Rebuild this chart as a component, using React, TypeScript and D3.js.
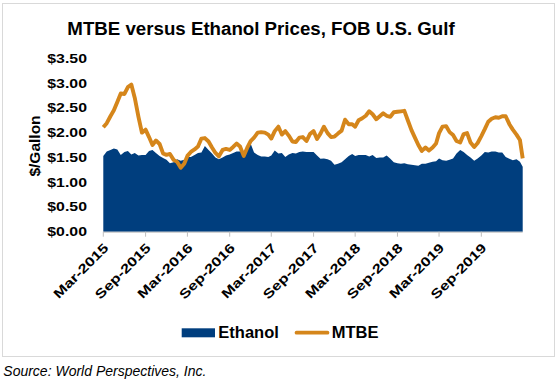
import React from "react";
import * as d3 from "d3";

// Semi-monthly observation dates, Mar 2015 – Feb 2020
const dates: Date[] = [];
for (let m = 0; m < 60; m++) {
  dates.push(new Date(2015, 2 + m, 1));
  dates.push(new Date(2015, 2 + m, 16));
}
dates.push(new Date(2020, 1, 28));

const mtbe: number[] = [
  2.11, 2.19, 2.33, 2.45, 2.62, 2.79, 2.78, 2.92, 2.97, 2.70,
  2.32, 2.00, 2.06, 1.91, 1.75, 1.84, 1.77, 1.58, 1.55, 1.57,
  1.45, 1.41, 1.29, 1.37, 1.53, 1.61, 1.66, 1.72, 1.88, 1.89,
  1.82, 1.70, 1.59, 1.52, 1.65, 1.67, 1.65, 1.71, 1.78, 1.72,
  1.53, 1.69, 1.83, 1.90, 2.00, 2.01, 2.00, 1.96, 1.88, 2.03,
  2.12, 1.96, 2.03, 1.94, 1.82, 1.81, 1.90, 1.91, 1.83, 1.97,
  2.03, 1.87, 1.98, 2.12, 1.99, 1.91, 1.92, 1.98, 2.04, 2.26,
  2.17, 2.17, 2.12, 2.25, 2.29, 2.34, 2.43, 2.37, 2.27, 2.33,
  2.39, 2.34, 2.32, 2.41, 2.42, 2.43, 2.44, 2.25, 2.05, 1.90,
  1.75, 1.63, 1.70, 1.64, 1.70, 1.78, 1.99, 2.12, 2.13, 2.01,
  1.95, 1.83, 1.80, 1.97, 1.99, 1.80, 1.71, 1.79, 1.93, 2.07,
  2.22, 2.28, 2.31, 2.30, 2.33, 2.33, 2.17, 2.06, 1.96, 1.85,
  1.48,
];

const ethanol: number[] = [
  1.53, 1.62, 1.65, 1.68, 1.66, 1.55, 1.61, 1.63, 1.56, 1.59,
  1.54, 1.55, 1.55, 1.63, 1.65, 1.59, 1.53, 1.49, 1.45, 1.38,
  1.40, 1.46, 1.43, 1.45, 1.51, 1.51, 1.55, 1.59, 1.60, 1.73,
  1.65, 1.58, 1.50, 1.46, 1.50, 1.54, 1.56, 1.59, 1.62, 1.62,
  1.62, 1.70, 1.78, 1.60, 1.55, 1.52, 1.52, 1.51, 1.54, 1.64,
  1.58, 1.59, 1.51, 1.56, 1.59, 1.58, 1.61, 1.62, 1.61, 1.61,
  1.61, 1.54, 1.47, 1.48, 1.46, 1.43, 1.35, 1.37, 1.40, 1.46,
  1.53, 1.57, 1.53, 1.55, 1.55, 1.55, 1.52, 1.55, 1.49, 1.50,
  1.50, 1.54, 1.47, 1.40, 1.38, 1.37, 1.38, 1.36, 1.35, 1.34,
  1.33, 1.37, 1.37, 1.39, 1.41, 1.42, 1.48, 1.44, 1.43, 1.45,
  1.48, 1.58, 1.65, 1.61, 1.55, 1.50, 1.43, 1.48, 1.54, 1.61,
  1.60, 1.62, 1.62, 1.60, 1.60, 1.51, 1.47, 1.44, 1.46, 1.41,
  1.31,
];

const xTickLabels: string[] = [
  "Mar-2015", "Sep-2015", "Mar-2016", "Sep-2016", "Mar-2017",
  "Sep-2017", "Mar-2018", "Sep-2018", "Mar-2019", "Sep-2019",
];
const yTicks: number[] = [0, 0.5, 1, 1.5, 2, 2.5, 3, 3.5];

const TITLE = "MTBE versus Ethanol Prices, FOB U.S. Gulf";
const SOURCE = "Source: World Perspectives, Inc.";
const NAVY = "#003E7E";
const ORANGE = "#D5861B";
const FONT = "Arial, 'Liberation Sans', sans-serif";

export default function App() {
  const W = 557, H = 381;
  const left = 103.3, right = 522.7, top = 58.3, bottom = 231.7;

  const x = d3.scaleTime().domain([dates[0], dates[dates.length - 1]]).range([left, right]);
  const y = d3.scaleLinear().domain([0, 3.5]).range([bottom, top]);

  const area = d3.area<number>()
    .x((_, i) => x(dates[i]))
    .y0(y(0))
    .y1((d) => y(d));
  const line = d3.line<number>()
    .x((_, i) => x(dates[i]))
    .y((d) => y(d));

  const tickDates = xTickLabels.map((_, i) => new Date(2015, 2 + 6 * i, 1));

  return (
    <svg width={W} height={H} style={{ position: "absolute", left: 0, top: 0, background: "#fff" }} fontFamily={FONT}>
      <rect x={2.5} y={3.5} width={552} height={353} fill="#fff" stroke="#d9d9d9" strokeWidth={1} />
      <text x={261} y={35} textAnchor="middle" fontSize={18.7} fontWeight="bold" fill="#000">{TITLE}</text>

      <path d={area(ethanol) || ""} fill={NAVY} />
      <path d={line(mtbe) || ""} fill="none" stroke={ORANGE} strokeWidth={3.9} strokeLinejoin="round" />

      <line x1={left} x2={right} y1={bottom + 0.5} y2={bottom + 0.5} stroke="#bfbfbf" strokeWidth={1} />
      {tickDates.map((d, i) => (
        <line key={"t" + i} x1={x(d)} x2={x(d)} y1={bottom} y2={bottom + 5} stroke="#bfbfbf" strokeWidth={1} />
      ))}
      {tickDates.map((d, i) => (
        <text key={"xl" + i} transform={`translate(${x(d) + 6},${bottom + 17}) rotate(-45) scale(1.27,1)`}
          textAnchor="end" fontSize={13} fontWeight="bold" fill="#000">{xTickLabels[i]}</text>
      ))}
      {yTicks.map((v, i) => (
        <text key={"yl" + i} transform={`translate(87,${y(v) + 4.5}) scale(1.22,1)`}
          textAnchor="end" fontSize={13} fontWeight="bold" fill="#000">{"$" + v.toFixed(2)}</text>
      ))}
      <text transform={`translate(40,146) rotate(-90)`} textAnchor="middle" fontSize={15.5} fontWeight="bold" fill="#000">$/Gallon</text>

      <rect x={181.7} y={328.3} width={33.3} height={9} fill={NAVY} />
      <text x={218.3} y={338.3} fontSize={16.5} fontWeight="bold" fill="#000">Ethanol</text>
      <line x1={296.5} x2={327.5} y1={332.7} y2={332.7} stroke={ORANGE} strokeWidth={3.7} strokeLinecap="round" />
      <text x={331.7} y={338.3} fontSize={16.5} fontWeight="bold" fill="#000">MTBE</text>

      <text x={3.3} y={375.5} fontSize={14} fontStyle="italic" fill="#000">{SOURCE}</text>
    </svg>
  );
}
